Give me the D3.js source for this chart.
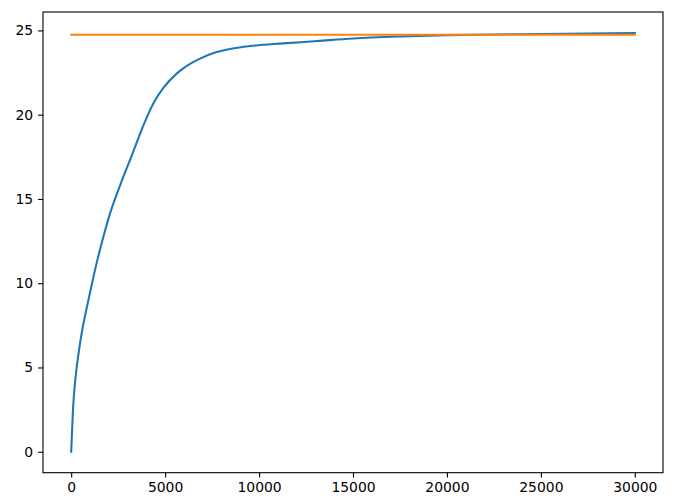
<!DOCTYPE html>
<html>
<head>
<meta charset="utf-8">
<script src="https://cdn.jsdelivr.net/npm/d3@7"></script>
<style>
  html, body { margin: 0; padding: 0; background: #fff; }
  svg { display: block; }
  .tick text { font-family: "DejaVu Sans", sans-serif; font-size: 13.9px; fill: #000; }
</style>
</head>
<body>
<svg id="chart" width="686" height="503"></svg>
<script>
// Blue series (x, y)
const curveX = [0, 100, 250, 400, 600, 850, 1130, 1400, 1750, 2087, 2618, 3239, 3855, 4386, 4917, 5628, 6000, 6800, 7700, 8600, 9500, 11300, 13100, 15000, 17500, 20000, 22500, 25000, 27500, 30000];
const curveY = [0, 2.6, 4.6, 5.9, 7.3, 8.65, 10.1, 11.4, 12.9, 14.2, 15.85, 17.62, 19.4, 20.7, 21.6, 22.45, 22.78, 23.3, 23.7, 23.93, 24.07, 24.23, 24.37, 24.52, 24.64, 24.72, 24.76, 24.79, 24.82, 24.85];
// Orange constant line
const refX = [0, 30000];
const refY = [24.74, 24.74];
const xTicks = [0, 5000, 10000, 15000, 20000, 25000, 30000];
const yTicks = [0, 5, 10, 15, 20, 25];

const mLeft = 43, mRight = 663, mTop = 12, mBottom = 472.7;
const svg = d3.select("#chart");

const x = d3.scaleLinear().domain([-1500, 31500]).range([mLeft, mRight]);
const y = d3.scaleLinear().domain([-1.2425, 26.0925]).range([mBottom, mTop]);

const line = d3.line().x(d => x(d[0])).y(d => y(d[1])).curve(d3.curveMonotoneX);

svg.append("path")
  .datum(curveX.map((v, i) => [v, curveY[i]]))
  .attr("d", line)
  .attr("fill", "none")
  .attr("stroke", "#1f77b4")
  .attr("stroke-width", 2.08)
  .attr("stroke-linecap", "square");

svg.append("path")
  .datum(refX.map((v, i) => [v, refY[i]]))
  .attr("d", d3.line().x(d => x(d[0])).y(d => y(d[1])))
  .attr("fill", "none")
  .attr("stroke", "#ff7f0e")
  .attr("stroke-width", 2.08)
  .attr("stroke-linecap", "square");

// Frame
svg.append("rect")
  .attr("x", mLeft).attr("y", mTop)
  .attr("width", mRight - mLeft).attr("height", mBottom - mTop)
  .attr("fill", "none").attr("stroke", "#000").attr("stroke-width", 1.1);

const xAxis = svg.append("g")
  .attr("transform", `translate(0,${mBottom})`)
  .call(d3.axisBottom(x).tickValues(xTicks).tickSize(4.9).tickPadding(4.9).tickFormat(d3.format("d")));
const yAxis = svg.append("g")
  .attr("transform", `translate(${mLeft},0)`)
  .call(d3.axisLeft(y).tickValues(yTicks).tickSize(4.9).tickPadding(4.9).tickFormat(d3.format("d")));
[xAxis, yAxis].forEach(g => {
  g.select(".domain").remove();
  g.selectAll(".tick line").attr("stroke", "#000").attr("stroke-width", 1.1);
  g.attr("font-family", null).attr("font-size", null);
});
</script>
</body>
</html>
